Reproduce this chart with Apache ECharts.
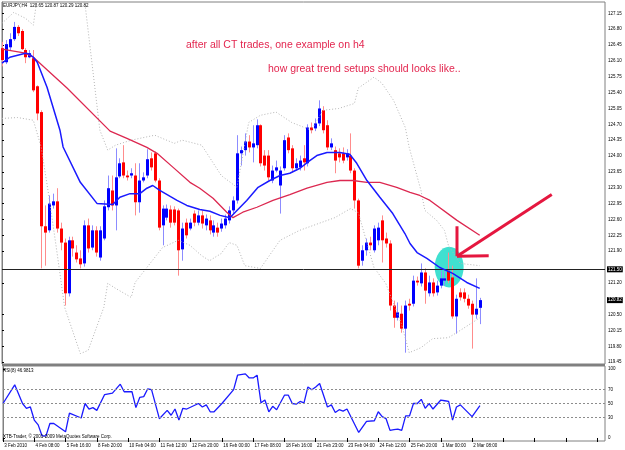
<!DOCTYPE html>
<html>
<head>
<meta charset="utf-8">
<script src="https://cdn.jsdelivr.net/npm/echarts@6/dist/echarts.min.js"></script>
<style>
  html, body { margin: 0; padding: 0; background: #fff; }
  #chart { width: 625px; height: 450px; }
</style>
</head>
<body>
<div id="chart"></div>
<script>
// EURJPY H4 candles. Index = bar number from the left edge.
const opens = [126.38,126.07,126.40,126.58,126.85,126.76,126.34,126.18,126.16,125.54,
  124.97,122.45,122.36,122.91,123.00,122.40,122.09,120.97,122.14,121.87,
  121.74,121.63,122.47,121.98,122.36,121.76,122.18,122.87,123.24,122.91,
  123.55,123.86,123.57,123.57,123.57,122.98,123.46,123.57,123.95,124.06,
  123.46,122.47,122.64,122.82,122.82,122.80,121.94,122.53,122.40,122.73,
  122.53,122.69,122.47,122.58,122.31,122.42,122.40,122.47,122.58,122.80,
  123.02,124.06,124.13,124.32,124.19,124.24,124.68,124.01,124.01,123.46,
  123.68,123.35,123.73,124.41,124.17,123.73,123.75,123.95,123.84,124.63,
  124.61,124.72,125.01,124.68,124.19,124.13,124.06,124.06,123.97,124.01,
  123.68,123.02,121.69,121.92,122.09,121.92,122.14,122.58,122.18,122.07,
  120.70,120.43,120.52,120.19,120.74,120.74,121.25,121.19,121.43,120.97,
  121.21,120.99,121.14,121.25,121.47,121.32,120.46,120.99,120.99,120.85,
  120.74,120.50,120.65];
const closes = [126.12,126.47,126.58,126.85,126.71,126.36,126.18,126.27,125.45,124.94,
  122.45,122.31,122.95,123.00,122.40,122.09,120.97,122.14,121.96,121.72,
  121.61,122.47,121.96,122.36,121.87,122.36,122.89,123.29,122.91,123.53,
  123.84,123.57,123.53,123.62,122.98,123.46,123.53,123.93,123.75,123.46,
  122.42,122.84,122.84,122.53,122.53,121.92,122.40,122.25,122.53,122.53,
  122.69,122.51,122.62,122.36,122.47,122.31,122.51,122.62,122.80,123.02,
  124.06,124.13,124.32,124.19,124.28,124.68,123.84,123.79,123.53,123.68,
  123.75,123.68,124.35,124.13,123.73,123.84,123.90,123.86,124.63,124.57,
  124.72,125.05,124.57,124.19,124.28,123.90,123.97,123.90,124.06,123.68,
  123.02,121.58,121.92,122.09,122.03,122.40,122.42,122.14,122.07,120.70,
  120.43,120.55,120.19,120.70,120.70,121.25,121.21,121.43,121.03,121.21,
  120.97,121.14,121.30,121.30,121.25,120.46,120.85,120.88,120.85,120.70,
  120.50,120.63,120.82];
const lows = [125.98,126.03,126.34,126.54,126.65,126.34,126.05,126.16,125.41,124.79,
  121.52,121.58,122.31,122.84,122.31,121.92,120.70,120.90,121.78,121.65,
  121.52,121.56,121.87,121.92,121.78,121.69,122.14,122.80,122.80,122.36,
  123.51,123.51,123.46,123.51,122.69,122.75,123.42,123.51,123.68,123.42,
  122.36,122.03,122.58,122.42,122.47,121.36,121.69,122.18,122.36,122.45,
  122.47,122.40,122.36,122.27,122.22,122.22,122.33,122.40,122.51,122.71,
  122.95,123.79,124.01,124.08,123.86,124.17,123.77,123.68,123.46,123.40,
  123.64,122.73,123.68,124.06,123.64,123.68,123.68,123.68,123.77,124.50,
  124.55,124.66,124.50,124.13,124.13,123.62,123.86,123.84,123.90,123.62,
  122.84,121.52,121.58,121.80,121.92,121.87,122.03,121.65,121.98,120.59,
  120.21,120.37,120.10,119.66,120.59,120.68,121.14,121.12,120.74,120.90,
  120.90,120.92,121.08,121.14,121.19,120.41,120.08,120.81,120.77,120.63,
  119.75,120.41,120.29];
const highs = [126.52,126.56,126.71,126.96,126.89,126.80,126.38,126.34,126.34,125.56,
  125.01,122.91,123.13,123.17,123.29,122.53,122.18,122.22,122.22,122.03,
  121.92,122.58,122.62,122.47,122.45,122.45,123.02,123.57,123.57,124.17,
  123.95,124.24,123.68,123.73,123.84,123.84,123.64,124.15,124.08,124.10,
  123.51,122.91,122.93,122.91,122.89,122.84,122.53,122.62,122.62,122.80,
  122.80,122.80,122.71,122.69,122.58,122.53,122.62,122.71,122.89,123.11,
  124.46,124.21,124.50,124.46,124.68,124.81,124.70,124.13,124.13,123.79,
  123.90,123.77,124.46,124.50,124.24,123.95,124.01,124.24,124.70,124.74,
  124.83,125.23,125.10,124.79,124.39,124.21,124.17,124.19,124.15,124.50,
  123.73,123.06,122.03,122.18,122.22,122.47,122.53,122.69,122.31,122.14,
  120.81,120.77,120.70,120.81,120.85,121.36,121.34,121.63,121.52,121.36,
  121.30,121.25,121.47,121.47,121.87,121.58,120.94,121.08,121.08,120.94,
  120.81,121.30,120.87];

// Indicator lines traced as [bar, value] vertices.
const blueMa = [[0,126.05],[2,126.18],[6,126.27],[7,126.25],[8,126.18],[9,126.07],[11.5,125.52],
  [14.8,124.57],[15.6,124.20],[20,123.42],[24.3,122.95],[28.3,122.93],[30.1,123.09],[32.7,123.17],
  [35.2,123.17],[37,123.29],[38.5,123.35],[40.3,123.24],[44.7,123.02],[47.2,122.91],[50.5,122.82],
  [53.1,122.78],[55.7,122.69],[58.2,122.64],[60,122.80],[62.5,123.02],[65.4,123.31],[68.4,123.46],
  [71,123.57],[73.5,123.62],[76.1,123.73],[78.6,123.90],[80.4,124.01],[83,124.08],[86.3,124.08],
  [88.8,124.04],[90.6,123.84],[93.2,123.46],[96.5,123.09],[99.8,122.73],[102.9,122.29],
  [104.2,122.07],[106,121.87],[108.5,121.74],[111.8,121.54],[115.1,121.41],[118.7,121.21],[122,121.08]];
const redMa = [[0,126.36],[6,126.27],[8,126.18],[16.6,125.50],[27.6,124.55],[31.9,124.39],[37,124.19],
  [39.6,124.06],[43.7,123.75],[48,123.42],[50.5,123.29],[53.9,123.07],[57.4,122.76],[59,122.64],
  [61.5,122.76],[65.1,122.87],[69.2,123.02],[73.5,123.15],[77.9,123.29],[83,123.42],[86.3,123.46],
  [89.6,123.46],[93.2,123.42],[96.5,123.42],[100.8,123.31],[104.2,123.20],[106.7,123.13],
  [109.3,123.02],[116.2,122.58],[122,122.25]];
const bbUpper = [[0,126.93],[3,127.17],[6,127.04],[8,126.89],[9,127.50],[10,127.90],[15,128.30],
  [20,127.90],[21,127.50],[25,124.57],[27,124.13],[29,124.24],[33,124.35],[39,124.46],[44,124.28],
  [46,124.35],[51,124.24],[56,123.57],[60,123.31],[63,124.74],[66,124.90],[70,124.97],[74,124.74],
  [79,124.57],[82,125.01],[86,125.05],[90,125.16],[91,125.50],[95,125.74],[97,125.61],[100,125.23],
  [103,124.63],[104,124.19],[107,123.24],[108,122.80],[111,122.58],[113,122.36],[114,122.03],
  [117,121.63],[122,121.58]];
const bbLower = [[0,124.83],[4,124.85],[8,124.79],[10,124.20],[12,123.10],[14,121.90],[16,120.66],
  [20,119.64],[22,119.71],[26,120.66],[27,121.19],[29,121.08],[33,120.88],[34,121.21],[37,121.54],
  [41,121.98],[45,122.14],[48,122.03],[51,121.80],[53,121.69],[56,121.85],[58,122.09],[60,122.03],
  [62,121.58],[66,121.52],[71,122.14],[76,122.36],[85,122.64],[89,122.84],[91,122.75],[95,121.54],
  [98,121.19],[102,120.30],[104,119.66],[107,119.77],[110,119.97],[114,119.99],[117,120.15],[122,120.43]];
const rsi = [[0,50],[3,77],[5,50],[6,43],[7,45],[8,26],[9,19],[10,3],[11,3],[12,21],[13,21],[16,9],
  [17,36],[20,29],[21,50],[22,42],[23,44],[24,40],[26,63],[28,65],[30,78],[31,67],[33,67],[34,44],
  [35,59],[36,60],[37,71],[38,70],[40,28],[42,40],[43,33],[44,42],[45,26],[46,43],[47,42],[50,50],
  [51,45],[52,48],[53,38],[54,38],[56,50],[59,70],[60,91],[62,93],[63,87],[64,87],[65,91],[66,51],
  [67,55],[68,38],[69,46],[70,41],[72,62],[73,62],[74,50],[75,49],[76,53],[77,51],[78,74],[79,70],
  [80,74],[81,79],[83,45],[84,48],[85,37],[86,41],[87,39],[88,42],[91,8],[93,24],[95,25],[96,38],
  [97,31],[98,28],[99,11],[100,12],[101,13],[102,11],[103,32],[104,32],[105,50],[106,50],[107,56],
  [108,43],[109,50],[110,42],[112,55],[113,54],[114,53],[115,26],[116,45],[117,48],[120,31],[122,47]];

const timeLabels = ["3 Feb 2010","4 Feb 08:00","5 Feb 16:00","8 Feb 20:00","10 Feb 04:00",
  "11 Feb 12:00","12 Feb 20:00","16 Feb 00:00","17 Feb 08:00","18 Feb 16:00","21 Feb 23:00",
  "23 Feb 04:00","24 Feb 12:00","25 Feb 20:00","1 Mar 00:00","2 Mar 08:00"];
const priceTicks = [127.15,126.80,126.45,126.10,125.75,125.40,125.05,124.70,124.35,124.00,123.65,
  123.30,122.95,122.60,122.25,121.90,121.20,120.50,120.15,119.80,119.45];
const rsiTicks = [0,30,50,70,100];
const rsiLevels = [70,50,30];
const hLevel = 121.50;

// Drawn objects, in [bar, price].
const ellipseAt = [114.2, 121.55], ellipseR = [3.7, 0.45];
const arrowTip = [116.2, 121.79], arrowUp = [116.2, 122.45], arrowSide = [124.3, 121.80], arrowTail = [140.4, 123.15];

const tiny = 4.5;
const chart = echarts.init(document.getElementById("chart"));

function renderCandle(params, api) {
  const i = api.value(0), o = api.value(1), c = api.value(2), l = api.value(3), h = api.value(4);
  const pO = api.coord([i, o]), pC = api.coord([i, c]);
  const pL = api.coord([i, l]), pH = api.coord([i, h]);
  const up = c >= o;
  const x = Math.round(pO[0]) + 0.5;
  const top = Math.min(pO[1], pC[1]);
  const bh = Math.max(Math.abs(pO[1] - pC[1]), 1);
  return {
    type: "group",
    children: [
      { type: "line", shape: { x1: x, y1: pH[1], x2: x, y2: pL[1] },
        style: { stroke: up ? "#8c8cff" : "#ff8c8c", lineWidth: 1 } },
      { type: "rect", shape: { x: x - 1.5, y: top, width: 3, height: bh },
        style: { fill: up ? "#0000ff" : "#ff0000" } },
    ],
  };
}

const boxLabel = (txt) => ({
  show: true, position: "end", distance: 2, formatter: txt, color: "#fff",
  backgroundColor: "#000", padding: [1, 1, 0, 1], fontSize: tiny, fontFamily: "Liberation Sans",
});

const dotted = { color: "#b4b4b4", width: 1, type: [1, 2] };
const lastClose = closes[closes.length - 1];

chart.setOption({
  animation: false,
  backgroundColor: "#fff",
  textStyle: { fontFamily: "Liberation Sans" },
  grid: [
    { left: 2, top: 2, width: 603, height: 362, show: true, borderColor: "#808080", borderWidth: 1 },
    { left: 2, top: 366, width: 603, height: 75, show: true, borderColor: "#808080", borderWidth: 1 },
  ],
  xAxis: [
    { type: "value", gridIndex: 0, min: 0, max: 154, show: false },
    {
      type: "value", gridIndex: 1, min: 0, max: 154, interval: 8,
      axisLine: { show: false }, splitLine: { show: false },
      axisTick: { length: 4, lineStyle: { color: "#000" } },
      axisLabel: {
        fontSize: tiny, margin: 2, align: "left", color: "#000", showMaxLabel: false,
        formatter: (v) => " " + (timeLabels[v / 8] || ""),
      },
    },
  ],
  yAxis: [
    {
      type: "value", gridIndex: 0, position: "right", min: 119.41, max: 127.40,
      axisLine: { show: true, lineStyle: { color: "#808080" } },
      axisTick: { show: true, length: 2, customValues: priceTicks, lineStyle: { color: "#000" } },
      axisLabel: { customValues: priceTicks, formatter: (v) => v.toFixed(2), fontSize: tiny, margin: 3, color: "#000" },
      splitLine: { show: false },
    },
    {
      type: "value", gridIndex: 1, position: "right", min: -4.35, max: 104.35,
      axisLine: { show: true, lineStyle: { color: "#808080" } },
      axisTick: { show: true, length: 2, customValues: rsiTicks, lineStyle: { color: "#000" } },
      axisLabel: { customValues: rsiTicks, fontSize: tiny, margin: 3, color: "#000" },
      splitLine: { show: false },
    },
  ],
  series: [
    {
      type: "custom", name: "EURJPY", xAxisIndex: 0, yAxisIndex: 0, z: 2,
      renderItem: renderCandle,
      encode: { x: 0, y: [1, 2, 3, 4] },
      data: opens.map((o, k) => [k, o, closes[k], lows[k], highs[k]]),
    },
    { type: "line", name: "bbUpper", data: bbUpper, showSymbol: false, z: 3, lineStyle: dotted },
    { type: "line", name: "bbLower", data: bbLower, showSymbol: false, z: 3, lineStyle: dotted },
    { type: "line", name: "redMa", data: redMa, showSymbol: false, z: 4, lineStyle: { color: "#dc2850", width: 1.3 } },
    {
      type: "line", name: "blueMa", data: blueMa, showSymbol: false, z: 5,
      lineStyle: { color: "#1a1aff", width: 1.5 },
      markLine: {
        silent: true, symbol: "none", animation: false,
        data: [
          { yAxis: hLevel, lineStyle: { color: "#222", width: 1, type: "solid" }, label: boxLabel(hLevel.toFixed(2)) },
          { yAxis: lastClose, lineStyle: { color: "rgba(0,0,0,0)", width: 1 }, label: boxLabel(lastClose.toFixed(2)) },
        ],
      },
    },
    {
      type: "line", name: "RSI", xAxisIndex: 1, yAxisIndex: 1, data: rsi, showSymbol: false,
      lineStyle: { color: "#1a1aff", width: 1.3 },
      markLine: {
        silent: true, symbol: "none", animation: false, label: { show: false },
        lineStyle: { color: "#8c8c8c", width: 1, type: [2, 2] },
        data: rsiLevels.map((v) => ({ yAxis: v })),
      },
    },
  ],
});

// Annotations drawn on the chart: texts, the cyan ellipse and the red arrow.
const px = (p) => chart.convertToPixel({ xAxisIndex: 0, yAxisIndex: 0 }, p);
const c0 = px(ellipseAt);
const cR = px([ellipseAt[0] + ellipseR[0], ellipseAt[1] + ellipseR[1]]);
const tip = px(arrowTip), up = px(arrowUp), side = px(arrowSide), tail = px(arrowTail);
const arrowStyle = { stroke: "#e5173f", lineWidth: 3, lineCap: "butt" };
const note = { fill: "#e3264f", fontSize: 10.5, fontFamily: "Liberation Sans", verticalAlign: "middle" };
const small = { fill: "#000", fontSize: tiny, fontFamily: "Liberation Sans", verticalAlign: "middle" };

chart.setOption({
  graphic: [
    { type: "rect", z: 100, shape: { x: 2, y: 364, width: 603, height: 2 }, style: { fill: "#808080" } },
    { type: "ellipse", z: 1, shape: { cx: c0[0], cy: c0[1], rx: cR[0] - c0[0], ry: c0[1] - cR[1] }, style: { fill: "#40e0d0" } },
    { type: "line", z: 100, shape: { x1: tail[0], y1: tail[1], x2: tip[0], y2: tip[1] }, style: arrowStyle },
    { type: "line", z: 100, shape: { x1: up[0], y1: up[1], x2: tip[0], y2: tip[1] }, style: arrowStyle },
    { type: "line", z: 100, shape: { x1: side[0], y1: side[1], x2: tip[0], y2: tip[1] }, style: arrowStyle },
    { type: "text", z: 100, x: 186, y: 45, style: Object.assign({ text: "after all CT trades, one example on h4" }, note) },
    { type: "text", z: 100, x: 268, y: 69, style: Object.assign({ text: "how great trend setups should looks like.." }, note) },
    { type: "text", z: 100, x: 3, y: 6, style: Object.assign({ text: "EURJPY,H4  120.65 120.87 120.29 120.82" }, small) },
    { type: "text", z: 100, x: 3, y: 371, style: Object.assign({ text: "RSI(8) 46.9813" }, small) },
    { type: "text", z: 100, x: 3, y: 437, style: Object.assign({ text: "XTB-Trader, \u00a9 2001-2009 MetaQuotes Software Corp." }, small) },
  ],
});

window.addEventListener("resize", () => chart.resize());
</script>
</body>
</html>
